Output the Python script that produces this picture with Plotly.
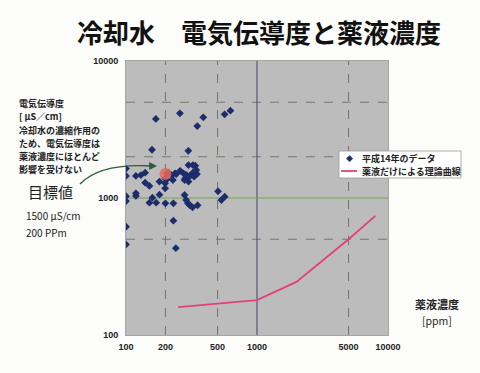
import plotly.graph_objects as go

# ---- data ----
data_x = [169, 258, 389, 350, 566, 627,
          158, 299,
          100, 100, 100, 100, 100, 100,
          119, 130, 140, 140, 151,
          119, 119, 159, 151, 170, 180, 180,
          200, 199, 199, 199, 205, 228, 280, 280,
          288, 297, 306, 322, 352,
          504, 535, 567,
          230, 230, 240,
          205, 211, 223, 237, 242, 259, 275, 283, 291, 295, 300, 324, 338, 309, 324, 331, 344, 348, 300]
data_y = [3780, 4150, 3880, 3350, 4080, 4340,
          2250, 2210,
          1640, 1450, 1030, 950, 617, 458,
          1450, 1470, 1530, 1294, 1224,
          1082, 1035, 1005, 925, 925, 1057, 1318,
          915, 1177, 1280, 1390, 1369, 1353, 1353, 1052,
          967, 915, 889, 855, 885,
          1119, 967, 1022,
          915, 683, 430,
          1515, 1530, 1470, 1515, 1495, 1580, 1515, 1390, 1470, 1435, 1740, 1740, 1720, 1448, 1530, 1435, 1600, 1495, 1318]

curve_x = [250, 1000, 2000, 5000, 8000]
curve_y = [160, 180, 244, 500, 740]

target_x = [200]
target_y = [1500]

x_ticks = [100, 200, 500, 1000, 5000, 10000]
y_ticks = [100, 1000, 10000]
x_dashed = [200, 500, 5000]
y_dashed = [500, 2000, 5000]

title = "冷却水\u3000電気伝導度と薬液濃度"
series_names = ["平成14年のデータ", "薬液だけによる理論曲線"]

# ---- layout geometry (pixels) ----
W, H = 480, 373
L, R, T, B = 126, 388, 61, 335
def px(x):
    return (x - L) / (R - L)
def py(y):
    return (B - y) / (B - T)

JP = "Noto Sans CJK JP"
NUM = "Liberation Sans"

fig = go.Figure()
fig.add_trace(go.Scatter(x=data_x, y=data_y, mode="markers", name=series_names[0],
                         marker=dict(symbol="diamond", size=6, color="#1c2d6b"),
                         showlegend=False))
fig.add_trace(go.Scatter(x=curve_x, y=curve_y, mode="lines", name=series_names[1],
                         line=dict(color="#e2407c", width=1.8), showlegend=False))
fig.add_trace(go.Scatter(x=target_x, y=target_y, mode="markers",
                         marker=dict(size=12, color="rgba(232,104,92,0.85)"),
                         showlegend=False))

for v in x_dashed:
    fig.add_vline(x=v, line=dict(color="#6e7468", width=1, dash="dash"), layer="below")
for v in y_dashed:
    fig.add_hline(y=v, line=dict(color="#6e7a66", width=1, dash="dash"), layer="below")
fig.add_vline(x=1000, line=dict(color="#3e4658", width=1), layer="below")
fig.add_hline(y=1000, line=dict(color="#78a05a", width=1.2), layer="below")

fig.update_xaxes(type="log", range=[2, 4], tickmode="array", tickvals=x_ticks,
                 ticktext=[str(v) for v in x_ticks], showgrid=False, zeroline=False,
                 showline=True, mirror=True, linecolor="#a4a4a4", linewidth=1,
                 tickfont=dict(family=NUM, size=9, color="#222", weight="bold"),
                 ticks="", ticklabelstandoff=3)
fig.update_yaxes(type="log", range=[2, 4], tickmode="array", tickvals=y_ticks,
                 ticktext=[str(v) for v in y_ticks], showgrid=False, zeroline=False,
                 showline=True, mirror=True, linecolor="#a4a4a4", linewidth=1,
                 tickfont=dict(family=NUM, size=9, color="#222", weight="bold"),
                 ticks="", ticklabelstandoff=5)

ann = []
shapes = []

def text(xp, yp, t, size, anchor="left", color="#222", align="left"):
    ann.append(dict(x=px(xp), y=py(yp), xref="paper", yref="paper", text=t,
                    showarrow=False, font=dict(family=JP, size=size, color=color),
                    xanchor=anchor, yanchor="middle", align=align,
                    borderpad=0))

# title
text(259, 32, "<b>" + title + "</b>", 26, "center", "#111")
# left y-axis title and note
text(18, 103, "<b>電気伝導度</b>", 9)
text(18, 116, "<b>[ μS／cm]</b>", 9)
note = ["冷却水の濃縮作用の", "ため、電気伝導度は", "薬液濃度にほとんど", "影響を受けない"]
for i, t in enumerate(note):
    text(18, 130 + 13.1 * i, "<b>" + t + "</b>", 9)
# hand-written target
text(50, 191, "目標値", 15, "center")
text(25, 215, "1500 μS/cm", 10)
text(25, 232, "200 PPm", 10)
# x-axis title
text(437, 304, "<b>薬液濃度</b>", 11, "center")
text(437, 320, "[ppm]", 10.5, "center")

# curved arrow
shapes.append(dict(type="path", xref="paper", yref="paper",
                   path=f"M {px(80)},{py(184)} Q {px(100)},{py(163)} {px(152)},{py(166)}",
                   line=dict(color="#2f5a3c", width=1.3), layer="above"))
ann.append(dict(x=px(157), y=py(166), ax=-8, ay=0, text="", showarrow=True,
                arrowhead=2, arrowsize=1.2, arrowwidth=1.3, arrowcolor="#2f5a3c",
                xref="paper", yref="paper", axref="pixel", ayref="pixel"))

# custom legend
shapes.append(dict(type="rect", xref="paper", yref="paper",
                   x0=px(339), x1=px(461), y0=py(178), y1=py(151),
                   fillcolor="white", line=dict(color="#9a9a9a", width=0.8), layer="above"))
shapes.append(dict(type="line", xref="paper", yref="paper",
                   x0=px(341), x1=px(357), y0=py(171), y1=py(171),
                   line=dict(color="#e2407c", width=1.8), layer="above"))
text(349, 158, "◆", 7, "center", "#1c2d6b")
for i, nm in enumerate(series_names):
    text(361, 158 + 13 * i, "<b>" + nm + "</b>", 9)

fig.update_layout(width=W, height=H, margin=dict(l=L, r=W - R, t=T, b=H - B),
                  paper_bgcolor="#fcfcfa", plot_bgcolor="#bcbcbc",
                  annotations=ann, shapes=list(fig.layout.shapes) + shapes,
                  showlegend=False)

fig.write_html("out.html", config={"displayModeBar": False},
               post_script="document.body.style.margin='0';document.body.style.overflow='hidden';")
